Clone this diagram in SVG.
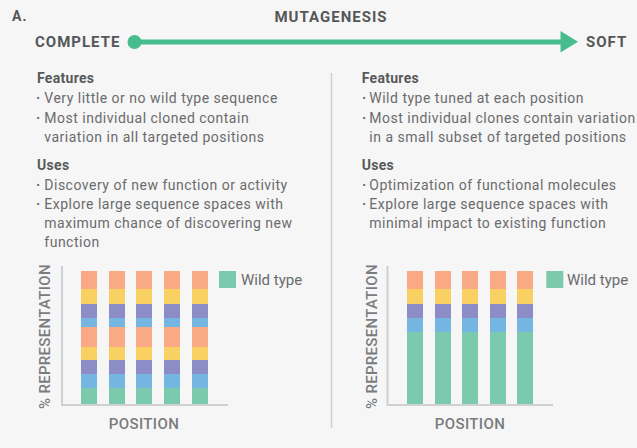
<svg xmlns="http://www.w3.org/2000/svg" xmlns:xlink="http://www.w3.org/1999/xlink" width="637" height="448" viewBox="0 0 637 448">
<style>
.hdr{font-family:Roboto,"Liberation Sans",sans-serif;font-weight:700;fill:#555658;letter-spacing:1px}
.sub{font-family:Roboto,"Liberation Sans",sans-serif;font-weight:700;font-size:14px;fill:#58595b;letter-spacing:0.3px}
.body{font-family:Roboto,"Liberation Sans",sans-serif;font-size:14px;fill:#6a6b6d;letter-spacing:0.5px}
.bul{font-weight:700}
.ax{font-family:Roboto,"Liberation Sans",sans-serif;font-weight:500;font-size:15px;fill:#7a7b7d}
.leg{font-family:Roboto,"Liberation Sans",sans-serif;font-size:15px;fill:#6a6b6d}
.axis{stroke:#cfd0d1;stroke-width:2;fill:none}
.s{fill:#f9aa85}.y{fill:#f9d162}.p{fill:#8c8dc6}.b{fill:#74b5e2}.g{fill:#7bcaae}
</style>
<defs>
<g id="barL">
<rect class="s" x="0" y="271" width="16" height="18"/>
<rect class="y" x="0" y="289" width="16" height="15"/>
<rect class="p" x="0" y="304" width="16" height="14"/>
<rect class="b" x="0" y="318" width="16" height="9"/>
<rect class="s" x="0" y="327" width="16" height="20"/>
<rect class="y" x="0" y="347" width="16" height="13"/>
<rect class="p" x="0" y="360" width="16" height="14"/>
<rect class="b" x="0" y="374" width="16" height="14"/>
<rect class="g" x="0" y="388" width="16" height="16"/>
</g>
<g id="barR">
<rect class="s" x="0" y="271" width="16" height="18"/>
<rect class="y" x="0" y="289" width="16" height="15"/>
<rect class="p" x="0" y="304" width="16" height="14"/>
<rect class="b" x="0" y="318" width="16" height="14"/>
<rect class="g" x="0" y="332" width="16" height="72"/>
</g>
</defs>
<rect width="637" height="448" fill="#f6f6f6"/>

<g id="title">
<text class="hdr" x="12" y="21" font-size="14">A.</text>
<text class="hdr" x="331" y="21.5" font-size="15" text-anchor="middle">MUTAGENESIS</text>
</g>
<g id="complete"><text class="hdr" x="35" y="47" font-size="15">COMPLETE</text></g>
<g id="soft"><text class="hdr" x="586" y="47" font-size="15">SOFT</text></g>

<g id="connectors">
<line x1="134.5" y1="42" x2="562" y2="42" stroke="#47bd8e" stroke-width="5"/>
<circle cx="134.5" cy="42" r="7" fill="#47bd8e"/>
<polygon points="560.5,31 578,41.8 560.5,52.5" fill="#47bd8e"/>
</g>

<line id="divider" x1="331.5" y1="73" x2="331.5" y2="428" stroke="#d0d0d0" stroke-width="1.5"/>

<g id="left-text">
<text class="sub" x="37" y="83.3">Features</text>
<text class="body" y="103.3"><tspan class="bul" x="36">·</tspan><tspan x="44.3">Very little or no wild type sequence</tspan></text>
<text class="body" y="122.7"><tspan class="bul" x="36">·</tspan><tspan x="44.3">Most individual cloned contain</tspan></text>
<text class="body" x="44.3" y="141.7">variation in all targeted positions</text>
<text class="sub" x="37" y="170">Uses</text>
<text class="body" y="190"><tspan class="bul" x="36">·</tspan><tspan x="44.3">Discovery of new function or activity</tspan></text>
<text class="body" y="209"><tspan class="bul" x="36">·</tspan><tspan x="44.3">Explore large sequence spaces with</tspan></text>
<text class="body" x="44.3" y="228.3">maximum chance of discovering new</text>
<text class="body" x="44.3" y="246.7">function</text>
</g>

<g id="right-text">
<text class="sub" x="361.7" y="83.3">Features</text>
<text class="body" y="103.3"><tspan class="bul" x="362">·</tspan><tspan x="369.3">Wild type tuned at each position</tspan></text>
<text class="body" y="122.7"><tspan class="bul" x="362">·</tspan><tspan x="369.3">Most individual clones contain variation</tspan></text>
<text class="body" x="369.3" y="141.7">in a small subset of targeted positions</text>
<text class="sub" x="361.7" y="170">Uses</text>
<text class="body" y="190"><tspan class="bul" x="362">·</tspan><tspan x="369.3">Optimization of functional molecules</tspan></text>
<text class="body" y="209"><tspan class="bul" x="362">·</tspan><tspan x="369.3">Explore large sequence spaces with</tspan></text>
<text class="body" x="369.3" y="228.3">minimal impact to existing function</text>
</g>

<g id="chart-left">
<use xlink:href="#barL" href="#barL" x="81"/>
<use xlink:href="#barL" href="#barL" x="109"/>
<use xlink:href="#barL" href="#barL" x="136"/>
<use xlink:href="#barL" href="#barL" x="164"/>
<use xlink:href="#barL" href="#barL" x="192"/>
<polyline class="axis" points="62,266 62,405 228,405"/>
<rect class="g" x="219" y="271" width="17" height="17"/>
<text class="leg" x="241" y="284.5">Wild type</text>
<text class="ax" x="144" y="429" text-anchor="middle" letter-spacing="0.4">POSITION</text>
<text class="ax" transform="translate(50,336.5) rotate(-90)" text-anchor="middle" font-size="14.5" letter-spacing="0.3">% REPRESENTATION</text>
</g>

<g id="chart-right">
<use xlink:href="#barR" href="#barR" x="407"/>
<use xlink:href="#barR" href="#barR" x="435"/>
<use xlink:href="#barR" href="#barR" x="462"/>
<use xlink:href="#barR" href="#barR" x="490"/>
<use xlink:href="#barR" href="#barR" x="517"/>
<polyline class="axis" points="387.5,266 387.5,405 553,405"/>
<rect class="g" x="546.3" y="271" width="17" height="17"/>
<text class="leg" x="567" y="284.5">Wild type</text>
<text class="ax" x="470" y="429" text-anchor="middle" letter-spacing="0.4">POSITION</text>
<text class="ax" transform="translate(376.5,336.5) rotate(-90)" text-anchor="middle" font-size="14.5" letter-spacing="0.3">% REPRESENTATION</text>
</g>
</svg>
